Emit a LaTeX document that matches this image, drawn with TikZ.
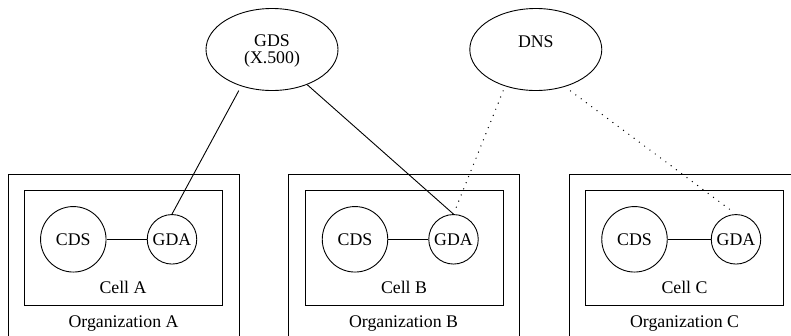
\documentclass[tikz,border=0pt]{standalone}
\usepackage{fontspec}
\setmainfont{Liberation Serif}
\usetikzlibrary{shapes.geometric}
\begin{document}
\begin{tikzpicture}[x=1pt,y=-1pt,
  every node/.style={font=\fontsize{17.8}{16.5}\selectfont},
  ln/.style={line width=0.9pt},
  boxline/.style={draw, line width=0.9pt},
  bigcirc/.style={circle, draw, line width=0.9pt, inner sep=0pt, minimum size=65.5pt},
  smallcirc/.style={circle, draw, line width=0.9pt, inner sep=0pt, minimum size=49.5pt},
  oval/.style={ellipse, draw, line width=0.9pt, inner sep=0pt, minimum width=132pt, minimum height=82pt},
  dotline/.style={line width=1.4pt, line cap=round, dash pattern=on 0pt off 6.6pt},
  lbl/.style={anchor=base, inner sep=0pt}]
\useasboundingbox (0,0) rectangle (791,335);
\clip (0,0) rectangle (791,335);

% organizations
\draw[boxline] (8,345) -- (8,174) -- (239,174) -- (239,345);
\draw[boxline] (288,345) -- (288,174) -- (519,174) -- (519,345);
\draw[boxline] (569,345) -- (569,174) -- (800,174) -- (800,345);
\node[lbl] (orgA) at (123.5,327.5) {Organization A};
\node[lbl] (orgB) at (403.5,327.5) {Organization B};
\node[lbl] (orgC) at (684.5,327.5) {Organization C};

% cells
\draw[boxline] (24,190.5) rectangle (222,305.7);
\draw[boxline] (305,190.5) rectangle (503,305.7);
\draw[boxline] (585.7,190.5) rectangle (783.3,305.7);
\node[lbl] (cellA) at (123,293.3) {Cell A};
\node[lbl] (cellB) at (404,293.3) {Cell B};
\node[lbl] (cellC) at (684.5,293.3) {Cell C};

% circles
\node[bigcirc] (cdsA) at (73.3,239.3) {CDS};
\node[smallcirc] (gdaA) at (172,239.3) {GDA};
\node[bigcirc] (cdsB) at (355,239.3) {CDS};
\node[smallcirc] (gdaB) at (453.5,239.3) {GDA};
\node[bigcirc] (cdsC) at (634.5,239.3) {CDS};
\node[smallcirc] (gdaC) at (736,239.3) {GDA};

\draw[ln] (cdsA) -- (gdaA);
\draw[ln] (cdsB) -- (gdaB);
\draw[ln] (cdsC) -- (gdaC);

% top ellipses
\node[oval] (gds) at (272,49.5) {};
\node[oval] (dns) at (535.8,49.5) {};
\node[lbl] (gdst) at (272,46.8) {GDS};
\node[lbl] (gdsx) at (272,63.6) {(X.500)};
\node[lbl] (dnst) at (535.8,47.7) {DNS};

% connectors
\draw[ln, shorten <=5pt] (gds.230) -- (gdaA.north);
\draw[ln] (gds.315) -- (gdaB.north);
\draw[dotline, shorten <=5pt, shorten >=7pt] (dns.230) -- (gdaB.north);
\draw[dotline, shorten <=7pt, shorten >=7pt] (dns.308) -- (gdaC.north);
\end{tikzpicture}
\end{document}
